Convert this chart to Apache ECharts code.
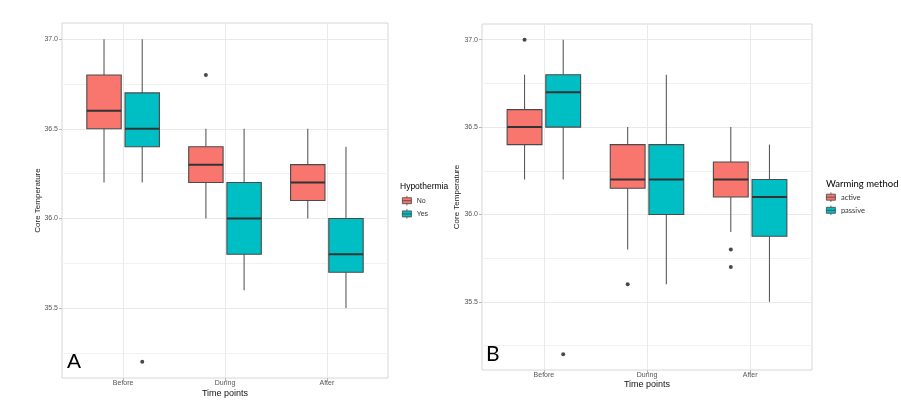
<!DOCTYPE html>
<html>
<head>
<meta charset="utf-8">
<script src="https://cdn.jsdelivr.net/npm/echarts@6/dist/echarts.min.js"></script>
<style>
html,body{margin:0;padding:0;background:#fff;}
#chart{width:901px;height:408px;}
</style>
</head>
<body>
<div id="chart"></div>
<script>
// ---------- data ----------
const categories = ['Before', 'During', 'After'];
// [min whisker, Q1, median, Q3, max whisker]
const hypoNo  = [[36.2, 36.5, 36.6, 36.8, 37.0], [36.0, 36.2, 36.3, 36.4, 36.5], [36.0, 36.1, 36.2, 36.3, 36.5]];
const hypoYes = [[36.2, 36.4, 36.5, 36.7, 37.0], [35.6, 35.8, 36.0, 36.2, 36.5], [35.5, 35.7, 35.8, 36.0, 36.4]];
const hypoNoOutliers  = [['During', 36.8]];
const hypoYesOutliers = [['Before', 35.2]];

const warmActive  = [[36.2, 36.4, 36.5, 36.6, 36.8], [35.8, 36.15, 36.2, 36.4, 36.5], [35.9, 36.1, 36.2, 36.3, 36.5]];
const warmPassive = [[36.2, 36.5, 36.7, 36.8, 37.0], [35.6, 36.0, 36.2, 36.4, 36.8], [35.5, 35.875, 36.1, 36.2, 36.4]];
const warmActiveOutliers  = [['Before', 37.0], ['During', 35.6], ['After', 35.8], ['After', 35.7]];
const warmPassiveOutliers = [['Before', 35.2]];

const yTicks = [35.5, 36.0, 36.5, 37.0];
const yMinorTicks = [35.25, 35.75, 36.25, 36.75];
const yRange = [35.11, 37.09];
const xRange = [0.4, 3.6];

// ---------- layout helpers (dodge like ggplot) ----------
const DODGE = 0.1875;
const BOX_W = 0.3375;
const RED = '#F8766D', TEAL = '#00BFC4';

function catPos(name) { return categories.indexOf(name) + 1; }
function boxData(stats, side) {
  return stats.map((s, i) => [i + 1 + side * DODGE].concat(s));
}
function outlierData(list, side) {
  return list.map(o => [catPos(o[0]) + side * DODGE, o[1]]);
}

function renderBox(params, api) {
  const x = api.value(0);
  const lo = api.value(1), q1 = api.value(2), med = api.value(3), q3 = api.value(4), hi = api.value(5);
  const h = BOX_W / 2;
  const pLo = api.coord([x, lo]);
  const pHi = api.coord([x, hi]);
  const pQ1 = api.coord([x - h, q1]);
  const pQ3 = api.coord([x + h, q3]);
  const pML = api.coord([x - h, med]);
  const pMR = api.coord([x + h, med]);
  const color = api.visual('color');
  return {
    type: 'group',
    children: [
      { type: 'line', shape: { x1: pLo[0], y1: pLo[1], x2: pLo[0], y2: pQ1[1] }, style: { stroke: '#5a5a5a', lineWidth: 1.1 } },
      { type: 'line', shape: { x1: pHi[0], y1: pQ3[1], x2: pHi[0], y2: pHi[1] }, style: { stroke: '#5a5a5a', lineWidth: 1.1 } },
      { type: 'rect', shape: { x: pQ1[0], y: pQ3[1], width: pQ3[0] - pQ1[0], height: pQ1[1] - pQ3[1] },
        style: { fill: color, stroke: '#4a4a4a', lineWidth: 1.1 } },
      { type: 'line', shape: { x1: pML[0], y1: pML[1], x2: pMR[0], y2: pMR[1] }, style: { stroke: '#333333', lineWidth: 2 } }
    ]
  };
}

const FONT = 'Liberation Sans, Arial, sans-serif';
const keyIcon = 'path://M6,1.2V3M1.5,3H10.5V9H1.5ZM1.5,6H10.5M6,9V10.8';

function xAxisFor(gridIndex, nameGap, labelMargin) {
  return {
    type: 'value', gridIndex: gridIndex, min: xRange[0], max: xRange[1],
    name: 'Time points', nameLocation: 'middle', nameGap: nameGap, nameMoveOverlap: false,
    nameTextStyle: { fontFamily: FONT, fontSize: 9, color: '#111' },
    axisLine: { show: false },
    axisTick: { show: true, customValues: [1, 2, 3], length: 3, lineStyle: { color: '#b8b8b8', width: 1 } },
    axisLabel: { customValues: [1, 2, 3], formatter: v => categories[Math.round(v) - 1], margin: labelMargin,
                 fontFamily: FONT, fontSize: 7, color: '#555' },
    splitLine: { show: true, lineStyle: { color: '#e9e9e9', width: 1 } }
  };
}
function yAxisFor(gridIndex, nameGap) {
  return {
    type: 'value', gridIndex: gridIndex, min: yRange[0], max: yRange[1],
    name: 'Core Temperature', nameLocation: 'middle', nameGap: nameGap, nameMoveOverlap: false,
    nameTextStyle: { fontFamily: FONT, fontSize: 8, color: '#222' },
    axisLine: { show: false },
    axisTick: { show: true, customValues: yTicks, length: 3, lineStyle: { color: '#b8b8b8', width: 1 } },
    axisLabel: { customValues: yTicks, formatter: v => v.toFixed(1), margin: 4,
                 fontFamily: FONT, fontSize: 7, color: '#555' },
    splitLine: { show: true, lineStyle: { color: '#e9e9e9', width: 1 } }
  };
}
function yMinorFor(gridIndex) {
  return {
    type: 'value', gridIndex: gridIndex, min: yRange[0], max: yRange[1], position: 'left',
    axisLine: { show: false },
    axisTick: { show: false, customValues: yMinorTicks },
    axisLabel: { show: false, customValues: yMinorTicks },
    splitLine: { show: true, lineStyle: { color: '#f1f1f1', width: 1 } }
  };
}

function boxSeries(name, stats, color, axisIdx) {
  return {
    type: 'custom', name: name, xAxisIndex: axisIdx, yAxisIndex: axisIdx * 2,
    renderItem: renderBox, itemStyle: { color: color },
    encode: { x: 0, y: [1, 2, 3, 4, 5] },
    data: boxData(stats, name === 'No' || name === 'active' ? -1 : 1),
    z: 3
  };
}
function outSeries(name, list, side, axisIdx) {
  return {
    type: 'scatter', name: name + ' outliers', xAxisIndex: axisIdx, yAxisIndex: axisIdx * 2,
    symbolSize: 4, itemStyle: { color: '#1a1a1a' },
    data: outlierData(list, side), z: 4
  };
}

const option = {
  backgroundColor: '#ffffff',
  animation: false,
  title: [
    { text: 'A', left: 67, top: 352, padding: 0, textStyle: { fontFamily: FONT, fontSize: 21, fontWeight: 'normal', color: '#000' } },
    { text: 'B', left: 486, top: 344, padding: 0, textStyle: { fontFamily: 'Lato, ' + FONT, fontSize: 21, fontWeight: 'normal', color: '#000' } },
    { text: 'Hypothermia', left: 400, top: 182, padding: 0, textStyle: { fontFamily: FONT, fontSize: 8.5, fontWeight: 'normal', color: '#000' } },
    { text: 'Warming method', left: 826, top: 179, padding: 0, textStyle: { fontFamily: 'Lato, ' + FONT, fontSize: 9.5, fontWeight: 'normal', color: '#000' } }
  ],
  legend: [
    { data: ['No', 'Yes'], left: 402, top: 195.5, padding: 0, orient: 'vertical', itemWidth: 9.5, itemHeight: 9.6, itemGap: 2.8,
      icon: keyIcon, itemStyle: { borderColor: '#444', borderWidth: 0.8 },
      textStyle: { fontFamily: FONT, fontSize: 7, color: '#333' } },
    { data: ['active', 'passive'], left: 826, top: 192, padding: 0, orient: 'vertical', itemWidth: 10, itemHeight: 9.6, itemGap: 2.7,
      icon: keyIcon, itemStyle: { borderColor: '#444', borderWidth: 0.8 },
      textStyle: { fontFamily: 'Lato, ' + FONT, fontSize: 7.5, color: '#333' } }
  ],
  grid: [
    { left: 62, right: 513, top: 23, bottom: 30, show: true, borderColor: '#d6d6d6', borderWidth: 1, backgroundColor: 'transparent' },
    { left: 482, right: 89, top: 24, bottom: 38, show: true, borderColor: '#d6d6d6', borderWidth: 1, backgroundColor: 'transparent' }
  ],
  xAxis: [xAxisFor(0, 11, 2), xAxisFor(1, 10, 1.5)],
  yAxis: [yAxisFor(0, 20.5), yMinorFor(0), yAxisFor(1, 21.5), yMinorFor(1)],
  series: [
    boxSeries('No', hypoNo, RED, 0),
    boxSeries('Yes', hypoYes, TEAL, 0),
    outSeries('No', hypoNoOutliers, -1, 0),
    outSeries('Yes', hypoYesOutliers, 1, 0),
    Object.assign(boxSeries('active', warmActive, RED, 1), { yAxisIndex: 2 }),
    Object.assign(boxSeries('passive', warmPassive, TEAL, 1), { yAxisIndex: 2 }),
    Object.assign(outSeries('active', warmActiveOutliers, -1, 1), { yAxisIndex: 2 }),
    Object.assign(outSeries('passive', warmPassiveOutliers, 1, 1), { yAxisIndex: 2 })
  ]
};

const chart = echarts.init(document.getElementById('chart'), null, { renderer: 'canvas' });
chart.setOption(option);
</script>
</body>
</html>
